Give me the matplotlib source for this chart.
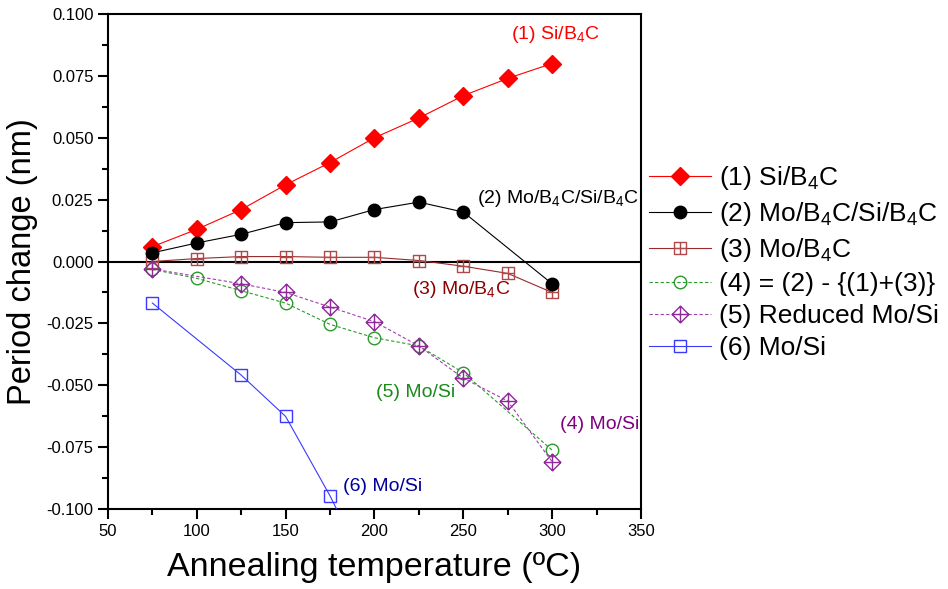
import matplotlib
matplotlib.use("Agg")
import matplotlib.pyplot as plt
import numpy as np
from matplotlib.path import Path

plt.rcParams['font.family'] = ['Liberation Sans', 'DejaVu Sans']
plt.rcParams['mathtext.default'] = 'regular'

# datos
t1 = [75, 100, 125, 150, 175, 200, 225, 250, 275, 300]
si_b4c = [0.006, 0.013, 0.021, 0.031, 0.040, 0.050, 0.058, 0.067, 0.074, 0.080]

t2 = [75, 100, 125, 150, 175, 200, 225, 250, 300]
mo_b4c_si_b4c = [0.0035, 0.0075, 0.011, 0.0157, 0.016, 0.021, 0.024, 0.020, -0.009]

t3 = [75, 100, 125, 150, 175, 200, 225, 250, 275, 300]
mo_b4c = [0.0, 0.0012, 0.002, 0.002, 0.0017, 0.0017, 0.0004, -0.0019, -0.0048, -0.0125]

t4 = [75, 100, 125, 150, 175, 200, 225, 250, 300]
diff = [-0.0032, -0.0068, -0.0118, -0.0168, -0.0254, -0.0308, -0.0341, -0.0449, -0.0762]

t5 = [75, 125, 150, 175, 200, 225, 250, 275, 300]
reduced = [-0.003, -0.009, -0.0125, -0.0184, -0.0243, -0.0341, -0.0471, -0.0564, -0.0809]

t6 = [75, 125, 150, 175, 200]
mo_si = [-0.0168, -0.0459, -0.0626, -0.0947, -0.131]

labels = ["(1) Si/B$_4$C", "(2) Mo/B$_4$C/Si/B$_4$C", "(3) Mo/B$_4$C",
          "(4) = (2) - {(1)+(3)}", "(5) Reduced Mo/Si", "(6) Mo/Si"]

# marcadores compuestos
sq_plus = Path([(-1, -1), (1, -1), (1, 1), (-1, 1), (-1, -1),
                (0, -1), (0, 1), (-1, 0), (1, 0)],
               [Path.MOVETO, Path.LINETO, Path.LINETO, Path.LINETO, Path.CLOSEPOLY,
                Path.MOVETO, Path.LINETO, Path.MOVETO, Path.LINETO])
dia_plus = Path([(0, -1), (1, 0), (0, 1), (-1, 0), (0, -1),
                 (0, -1), (0, 1), (-1, 0), (1, 0)],
                [Path.MOVETO, Path.LINETO, Path.LINETO, Path.LINETO, Path.CLOSEPOLY,
                 Path.MOVETO, Path.LINETO, Path.MOVETO, Path.LINETO])

fig = plt.figure(figsize=(9.48, 5.89), dpi=100)
ax = fig.add_axes([0.1139, 0.1358, 0.5622, 0.8404])

ax.axhline(0, color='black', lw=1.5, zorder=1)

ax.plot(t1, si_b4c, '-', color='red', lw=0.8, marker='D', ms=9,
        mfc='red', mec='red', label=labels[0], zorder=5)
ax.plot(t2, mo_b4c_si_b4c, '-', color='black', lw=0.8, marker='o', ms=9,
        mfc='black', mec='black', label=labels[1], zorder=5)
ax.plot(t3, mo_b4c, '-', color='#9a2a2a', lw=0.8, marker=sq_plus, ms=8,
        mfc='none', mec='#b04a4a', mew=1.0, label=labels[2], zorder=4)
ax.plot(t4, diff, '--', color='#2a9a2a', lw=0.8, dashes=(3, 2), marker='o', ms=9,
        mfc='none', mec='#2a9a2a', mew=1.0, label=labels[3], zorder=4)
ax.plot(t5, reduced, '--', color='#a040b0', lw=0.8, dashes=(3, 2), marker=dia_plus, ms=12,
        mfc='none', mec='#902a9a', mew=1.0, label=labels[4], zorder=4)
ax.plot(t6, mo_si, '-', color='#3a3aff', lw=0.8, marker='s', ms=9,
        mfc='none', mec='#3a3aff', mew=1.0, label=labels[5], zorder=4)

ax.set_xlim(50, 350)
ax.set_ylim(-0.1, 0.1)
ax.set_xticks(np.arange(50, 351, 50))
ax.set_xticks(np.arange(75, 350, 50), minor=True)
ax.set_yticks(np.round(np.arange(-0.1, 0.1001, 0.025), 4))
ax.set_yticks(np.arange(-0.0875, 0.1, 0.025), minor=True)
ax.yaxis.set_major_formatter(matplotlib.ticker.FuncFormatter(
    lambda v, p: "%.3f" % (0.0 if abs(v) < 1e-9 else v)))
ax.tick_params(which='major', direction='out', length=7, width=1.5, labelsize=12,
               top=False, right=False)
ax.tick_params(which='minor', direction='out', length=4, width=1.5,
               top=False, right=False)
for s in ax.spines.values():
    s.set_linewidth(1.5)

ax.set_xlabel("Annealing temperature (ºC)", fontsize=24.5, labelpad=10)
ax.set_ylabel("Period change (nm)", fontsize=23.5, labelpad=6)

# anotaciones
ax.text(302, 0.0919, "(1) Si/B$_4$C", color='red', fontsize=14, ha='center', va='center')
ax.text(257.5, 0.0253, "(2) Mo/B$_4$C/Si/B$_4$C", color='black', fontsize=14, ha='left', va='center')
ax.text(221, -0.0115, "(3) Mo/B$_4$C", color='#8b0000', fontsize=14, ha='left', va='center')
ax.text(200.8, -0.0531, "(5) Mo/Si", color='#1a8a1a', fontsize=14, ha='left', va='center')
ax.text(304.4, -0.066, "(4) Mo/Si", color='#800080', fontsize=14, ha='left', va='center')
ax.text(182.3, -0.0911, "(6) Mo/Si", color='#000099', fontsize=14, ha='left', va='center')

fig.legend(loc='center left', bbox_to_anchor=(649 / 948, 1 - 262 / 589),
           frameon=False, fontsize=19, handlelength=2.35, handletextpad=0.3,
           labelspacing=0.3, borderpad=0, borderaxespad=0)

fig.savefig("out.png", dpi=100)
